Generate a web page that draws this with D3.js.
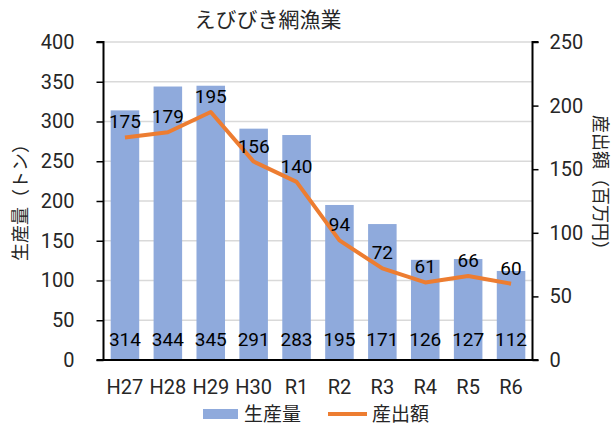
<!DOCTYPE html>
<html><head><meta charset="utf-8">
<script src="https://cdn.jsdelivr.net/npm/d3@7"></script>
<style>
body{margin:0;background:#fff;}
text{font-family:Roboto,'Noto Sans CJK JP',sans-serif;font-weight:400;fill:#262626;}
.jp{font-family:'Noto Sans CJK JP',sans-serif;font-weight:400;}
</style></head>
<body>
<svg id="c" width="614" height="426"></svg>
<script>
const categories = ["H27","H28","H29","H30","R1","R2","R3","R4","R5","R6"];
const production = [314,344,345,291,283,195,171,126,127,112];
const outputValue = [175,179,195,156,140,94,72,61,66,60];
const leftTicks = [0,50,100,150,200,250,300,350,400];
const rightTicks = [0,50,100,150,200,250];

const svg = d3.select("#c");
const L = 103.5, R = 532.5, T = 42, B = 360;
const x = d3.scaleBand().domain(categories).range([L,R]).paddingInner(0.335).paddingOuter(0.1675);
const yL = d3.scaleLinear().domain([0,400]).range([B,T]);
const yR = d3.scaleLinear().domain([0,250]).range([B,T]);

// gridlines
svg.append("g").selectAll("line").data(leftTicks.filter(d=>d>0)).join("line")
  .attr("x1",L).attr("x2",R).attr("y1",d=>yL(d)).attr("y2",d=>yL(d))
  .attr("stroke","#d9d9d9").attr("stroke-width",1.3);

// bars
svg.append("g").selectAll("rect").data(production).join("rect")
  .attr("x",(d,i)=>x(categories[i])).attr("width",x.bandwidth())
  .attr("y",d=>yL(d)).attr("height",d=>B-yL(d)).attr("fill","#8FAADC");

// line
const line = d3.line().x((d,i)=>x(categories[i])+x.bandwidth()/2).y(d=>yR(d));
svg.append("path").datum(outputValue).attr("d",line).attr("fill","none")
  .attr("stroke","#ED7D31").attr("stroke-width",4).attr("stroke-linejoin","round");

// bar labels (inside base)
svg.append("g").selectAll("text").data(production).join("text")
  .attr("x",(d,i)=>x(categories[i])+x.bandwidth()/2).attr("y",B-14)
  .attr("text-anchor","middle").attr("font-size",19).style("fill","#000").text(d=>d);

// line labels (above)
svg.append("g").selectAll("text").data(outputValue).join("text")
  .attr("x",(d,i)=>x(categories[i])+x.bandwidth()/2).attr("y",d=>yR(d)-9)
  .attr("text-anchor","middle").attr("font-size",19).style("fill","#000").text(d=>d);

// axes
const axL = svg.append("g").attr("transform",`translate(${L},0)`)
  .call(d3.axisLeft(yL).tickValues(leftTicks).tickSize(7).tickPadding(22));
const axR = svg.append("g").attr("transform",`translate(${R},0)`)
  .call(d3.axisRight(yR).tickValues(rightTicks).tickSize(6).tickPadding(11));
const axB = svg.append("g").attr("transform",`translate(0,${B})`)
  .call(d3.axisBottom(x).tickSize(0).tickPadding(16));
[axL,axR,axB].forEach(a=>{
  a.select(".domain").attr("stroke","#000").attr("stroke-width",2);
  a.selectAll(".tick line").attr("stroke","#000").attr("stroke-width",1.5);
  a.selectAll(".tick text").attr("font-size",20).attr("font-family",null).style("fill","#262626");
});
axL.select(".domain").attr("d",`M-7,${T}H0V${B}`);
axR.select(".domain").attr("d",`M6,${T}H0V${B}`);
axB.select(".domain").attr("d",`M${L-7},0H${R+6}`);
axB.selectAll(".tick text").attr("dy","0.9em");

// title
svg.append("text").attr("class","jp").attr("x",268).attr("y",27).attr("text-anchor","middle")
  .attr("font-size",21).text("えびびき網漁業");

// axis titles
svg.append("text").attr("class","jp").attr("transform","translate(27,198) rotate(-90)")
  .attr("text-anchor","middle").attr("font-size",18).text("生産量（トン）");
svg.append("text").attr("class","jp").attr("transform","translate(594,187) rotate(90)")
  .attr("text-anchor","middle").attr("font-size",18).text("産出額（百万円）");

// legend
svg.append("rect").attr("x",203).attr("y",409).attr("width",35).attr("height",10).attr("fill","#8FAADC");
svg.append("text").attr("class","jp").attr("x",244).attr("y",414).attr("dy","0.35em").attr("font-size",19).text("生産量");
svg.append("line").attr("x1",328).attr("x2",367).attr("y1",414).attr("y2",414).attr("stroke","#ED7D31").attr("stroke-width",4);
svg.append("text").attr("class","jp").attr("x",372).attr("y",414).attr("dy","0.35em").attr("font-size",19).text("産出額");
</script>
</body></html>
